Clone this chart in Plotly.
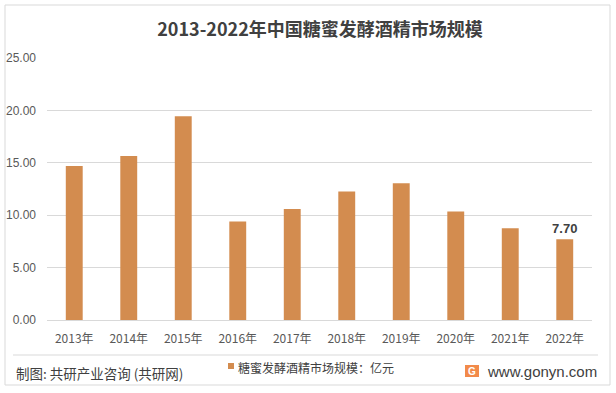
import plotly.graph_objects as go

years = ["2013年", "2014年", "2015年", "2016年", "2017年", "2018年", "2019年", "2020年", "2021年", "2022年"]
values = [14.7, 15.65, 19.45, 9.4, 10.6, 12.25, 13.05, 10.35, 8.75, 7.70]
series_name = "糖蜜发酵酒精市场规模：亿元"
ytick_vals = [0, 5, 10, 15, 20, 25]
ytick_text = ["0.00", "5.00", "10.00", "15.00", "20.00", "25.00"]

W, H = 616, 393
L, R, T, B = 47, 24, 58, 73
pw, ph = W - L - R, H - T - B

def px(x):
    return (x - L) / pw

def py(y):
    return (H - B - y) / ph

bar_color = "#D38C4F"
texts = [""] * (len(values) - 1) + [f"<b>{values[-1]:.2f}</b>"]

fig = go.Figure()
fig.add_trace(go.Bar(
    x=years, y=values, name=series_name,
    marker=dict(color=bar_color, line=dict(width=0)),
    text=texts, textposition="outside", constraintext="none",
    textfont=dict(family="Liberation Sans, Arial", size=13, color="#404040"),
    cliponaxis=False, showlegend=False,
))

fig.update_layout(
    width=W, height=H,
    margin=dict(l=L, r=R, t=T, b=B, autoexpand=False),
    paper_bgcolor="white", plot_bgcolor="white",
    bargap=0.69,
    font=dict(family="Noto Sans CJK SC, Liberation Sans", color="#595959", size=12),
    title=dict(text="<b>2013-2022年中国糖蜜发酵酒精市场规模</b>", x=px(320), xref="paper", xanchor="center",
               y=1 - 30 / H, yanchor="middle",
               font=dict(size=18, color="#404040", family="Noto Sans CJK SC")),
    xaxis=dict(showgrid=False, showline=True, linecolor="#d9d9d9", ticks="",
               ticklabelstandoff=8,
               tickfont=dict(size=12, color="#595959", family="Noto Sans CJK SC")),
    yaxis=dict(range=[0, 25], tickvals=ytick_vals, ticktext=ytick_text,
               showgrid=True, gridcolor="#d9d9d9", gridwidth=1, zeroline=False,
               showline=False, ticks="", ticklabelstandoff=10,
               tickfont=dict(size=12, color="#595959", family="Liberation Sans, Arial")),
    shapes=[
        dict(type="rect", xref="paper", yref="paper", x0=px(5), x1=px(610), y0=py(385), y1=py(5),
             line=dict(color="#d9d9d9", width=1), fillcolor="rgba(0,0,0,0)", layer="below"),
        dict(type="line", xref="paper", yref="paper", x0=px(13), x1=px(598), y0=py(355), y1=py(355),
             line=dict(color="#d9d9d9", width=1)),
        dict(type="rect", xref="paper", yref="paper", x0=px(228), x1=px(234), y0=py(369), y1=py(363),
             line=dict(width=0), fillcolor=bar_color),
        dict(type="rect", xref="paper", yref="paper", x0=px(465), x1=px(479), y0=py(377), y1=py(365),
             line=dict(width=0), fillcolor="#F28A4A"),
    ],
    annotations=[
        dict(text=series_name, xref="paper", yref="paper", x=px(236), y=py(367),
             xanchor="left", yanchor="middle", showarrow=False,
             font=dict(size=12, color="#404040", family="Noto Sans CJK SC")),
        dict(text="制图: 共研产业咨询 (共研网)", xref="paper", yref="paper", x=px(14), y=py(373),
             xanchor="left", yanchor="middle", showarrow=False,
             font=dict(size=13.5, color="#404040", family="Noto Sans CJK SC")),
        dict(text="www.gonyn.com", xref="paper", yref="paper", x=px(599), y=py(371),
             xanchor="right", yanchor="middle", showarrow=False,
             font=dict(size=15, color="#404040", family="Liberation Sans, Arial")),
        dict(text="<b>G</b>", xref="paper", yref="paper", x=px(472), y=py(371),
             xanchor="center", yanchor="middle", showarrow=False,
             font=dict(size=10, color="white", family="Liberation Sans")),
    ],
)

fig.write_html("out.html", config={"displayModeBar": False},
               post_script="document.body.style.margin='0';")
